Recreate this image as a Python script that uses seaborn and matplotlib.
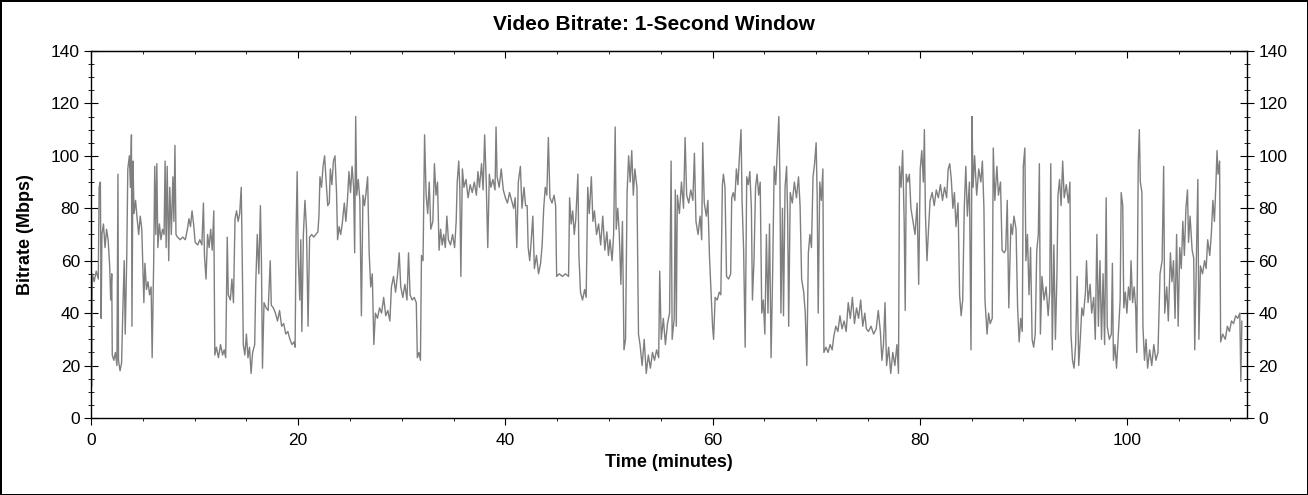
import matplotlib
matplotlib.use("Agg")
import matplotlib.pyplot as plt
import seaborn as sns
from matplotlib.ticker import MultipleLocator

# (minute, Mbps) samples
minutes = [
    0.00, 0.05, 0.12, 0.3, 0.5, 0.7, 0.78, 0.9, 0.98, 1.05, 1.2, 1.35, 1.5, 1.65, 1.8, 1.9,
    2.0, 2.05, 2.2, 2.35, 2.5, 2.6, 2.65, 2.8, 2.95, 3.05, 3.2, 3.3, 3.45, 3.55, 3.7, 3.8,
    3.9, 3.95, 4.05, 4.15, 4.3, 4.45, 4.6, 4.75, 4.9, 5.0, 5.1, 5.2, 5.35, 5.5, 5.65, 5.8,
    5.9, 6.05, 6.15, 6.25, 6.35, 6.45, 6.6, 6.75, 6.9, 7.05, 7.15, 7.25, 7.35, 7.5, 7.6, 7.75,
    7.9, 8.0, 8.1, 8.2, 8.35, 8.6, 8.85, 9.1, 9.3, 9.45, 9.6, 9.75, 9.9, 10.05, 10.3, 10.5,
    10.7, 10.85, 10.95, 11.1, 11.25, 11.4, 11.55, 11.7, 11.85, 11.95, 12.1, 12.3, 12.5, 12.7,
    12.85, 13.0, 13.15, 13.25, 13.45, 13.6, 13.75, 13.9, 14.05, 14.2, 14.35, 14.5, 14.6, 14.7,
    14.85, 15.0, 15.15, 15.3, 15.45, 15.6, 15.8, 15.9, 16.05, 16.2, 16.35, 16.45, 16.55, 16.7,
    16.9, 17.1, 17.3, 17.4, 17.6, 17.8, 18.0, 18.2, 18.4, 18.6, 18.8, 19.0, 19.2, 19.4, 19.6,
    19.7, 19.8, 19.9, 20.0, 20.15, 20.25, 20.35, 20.5, 20.65, 20.8, 20.95, 21.1, 21.3, 21.5,
    21.7, 21.9, 22.0, 22.1, 22.25, 22.4, 22.55, 22.7, 22.85, 23.0, 23.1, 23.25, 23.4, 23.55,
    23.7, 23.8, 23.95, 24.1, 24.25, 24.45, 24.6, 24.75, 24.9, 25.05, 25.2, 25.35, 25.45, 25.55,
    25.65, 25.8, 25.95, 26.1, 26.25, 26.4, 26.55, 26.7, 26.85, 27.0, 27.15, 27.3, 27.45, 27.65,
    27.85, 28.05, 28.25, 28.45, 28.65, 28.85, 29.0, 29.2, 29.4, 29.6, 29.75, 29.9, 30.1, 30.3,
    30.5, 30.65, 30.8, 31.0, 31.2, 31.4, 31.5, 31.65, 31.8, 31.9, 32.05, 32.2, 32.35, 32.5,
    32.65, 32.8, 33.0, 33.15, 33.3, 33.45, 33.6, 33.75, 33.9, 34.05, 34.2, 34.35, 34.5, 34.7,
    34.9, 35.1, 35.25, 35.35, 35.5, 35.6, 35.7, 35.85, 36.0, 36.2, 36.4, 36.6, 36.8, 37.0,
    37.2, 37.35, 37.5, 37.7, 37.85, 38.0, 38.15, 38.3, 38.45, 38.6, 38.8, 39.0, 39.1, 39.2,
    39.4, 39.6, 39.8, 40.0, 40.2, 40.4, 40.6, 40.8, 40.95, 41.1, 41.25, 41.45, 41.6, 41.8,
    41.95, 42.1, 42.2, 42.35, 42.5, 42.65, 42.8, 43.0, 43.2, 43.4, 43.55, 43.7, 43.85, 44.0,
    44.15, 44.3, 44.5, 44.7, 44.85, 44.95, 45.2, 45.5, 45.8, 46.1, 46.2, 46.35, 46.5, 46.65,
    46.8, 47.0, 47.1, 47.25, 47.45, 47.65, 47.8, 47.95, 48.1, 48.3, 48.45, 48.6, 48.8, 49.0,
    49.2, 49.4, 49.6, 49.8, 49.95, 50.1, 50.3, 50.45, 50.6, 50.7, 50.85, 51.0, 51.15, 51.3,
    51.45, 51.6, 51.75, 51.9, 52.05, 52.2, 52.35, 52.5, 52.7, 52.85, 53.0, 53.2, 53.4, 53.6,
    53.8, 54.0, 54.2, 54.4, 54.6, 54.8, 54.9, 55.05, 55.25, 55.45, 55.65, 55.85, 56.0, 56.1,
    56.3, 56.4, 56.5, 56.6, 56.8, 57.0, 57.2, 57.35, 57.5, 57.7, 57.9, 58.1, 58.25, 58.4,
    58.6, 58.8, 58.95, 59.05, 59.2, 59.4, 59.55, 59.7, 59.85, 60.0, 60.1, 60.25, 60.45, 60.65,
    60.8, 60.95, 61.05, 61.2, 61.35, 61.55, 61.75, 61.85, 62.0, 62.15, 62.3, 62.45, 62.6, 62.75,
    62.85, 63.0, 63.15, 63.3, 63.45, 63.6, 63.75, 63.85, 64.0, 64.15, 64.3, 64.45, 64.6, 64.75,
    64.9, 65.05, 65.2, 65.35, 65.5, 65.65, 65.8, 65.95, 66.1, 66.25, 66.4, 66.5, 66.6, 66.75,
    66.85, 67.0, 67.15, 67.25, 67.35, 67.5, 67.7, 67.9, 68.1, 68.3, 68.45, 68.6, 68.8, 68.95,
    69.1, 69.25, 69.4, 69.55, 69.7, 69.85, 70.0, 70.1, 70.2, 70.35, 70.5, 70.65, 70.75, 70.95,
    71.15, 71.35, 71.55, 71.7, 71.9, 72.1, 72.3, 72.5, 72.7, 72.9, 73.1, 73.3, 73.5, 73.7,
    73.9, 74.1, 74.3, 74.5, 74.7, 74.85, 75.05, 75.3, 75.55, 75.8, 76.0, 76.2, 76.35, 76.5,
    76.65, 76.8, 77.0, 77.2, 77.4, 77.6, 77.8, 77.95, 78.05, 78.2, 78.35, 78.5, 78.6, 78.7,
    78.85, 79.0, 79.15, 79.35, 79.55, 79.75, 79.9, 80.05, 80.2, 80.35, 80.45, 80.55, 80.7, 80.85,
    81.0, 81.2, 81.4, 81.6, 81.8, 82.0, 82.2, 82.4, 82.6, 82.75, 82.9, 83.05, 83.2, 83.35,
    83.5, 83.7, 83.85, 84.0, 84.15, 84.3, 84.45, 84.6, 84.8, 84.95, 85.05, 85.15, 85.3, 85.5,
    85.7, 85.9, 86.05, 86.2, 86.3, 86.5, 86.65, 86.8, 87.0, 87.1, 87.25, 87.45, 87.6, 87.8,
    87.95, 88.15, 88.3, 88.45, 88.6, 88.8, 88.95, 89.1, 89.3, 89.45, 89.6, 89.75, 89.9, 90.0,
    90.15, 90.25, 90.4, 90.55, 90.7, 90.85, 91.0, 91.15, 91.3, 91.45, 91.55, 91.65, 91.8, 92.0,
    92.2, 92.4, 92.55, 92.65, 92.8, 92.95, 93.1, 93.25, 93.35, 93.5, 93.65, 93.8, 93.95, 94.15,
    94.35, 94.5, 94.6, 94.75, 94.9, 95.05, 95.2, 95.35, 95.5, 95.65, 95.8, 96.0, 96.1, 96.25,
    96.45, 96.6, 96.8, 96.95, 97.1, 97.25, 97.4, 97.55, 97.7, 97.85, 98.0, 98.1, 98.3, 98.5,
    98.6, 98.7, 98.85, 99.0, 99.15, 99.35, 99.45, 99.6, 99.7, 99.85, 100.0, 100.15, 100.3, 100.4,
    100.55, 100.7, 100.85, 100.95, 101.1, 101.2, 101.3, 101.45, 101.55, 101.7, 101.85, 102.0,
    102.2, 102.4, 102.6, 102.8, 103.0, 103.2, 103.4, 103.55, 103.65, 103.85, 104.0, 104.2,
    104.35, 104.5, 104.65, 104.8, 104.95, 105.1, 105.25, 105.4, 105.55, 105.7, 105.85, 105.95,
    106.1, 106.3, 106.45, 106.55, 106.7, 106.85, 106.95, 107.1, 107.3, 107.5, 107.65, 107.8,
    108.0, 108.15, 108.3, 108.45, 108.6, 108.7, 108.8, 108.95, 109.05, 109.25, 109.5, 109.7,
    109.9, 110.1, 110.3, 110.5, 110.7, 110.9, 111.0, 111.1,
]

mbps = [
    48, 12, 55, 52, 56, 53, 88, 90, 38, 70, 74, 65, 72, 68, 58, 45,
    55, 24, 22, 25, 20, 93, 22, 18, 21, 38, 60, 32, 62, 95, 100, 88,
    108, 35, 98, 78, 83, 76, 70, 77, 72, 58, 44, 59, 49, 52, 47, 50,
    23, 60, 96, 70, 97, 65, 74, 68, 72, 70, 98, 65, 96, 60, 88, 70,
    92, 75, 104, 70, 69, 68, 69, 68, 72, 76, 73, 79, 74, 67, 66, 68,
    66, 82, 62, 53, 70, 65, 72, 64, 79, 24, 27, 23, 28, 24,
    26, 23, 69, 47, 45, 53, 44, 76, 79, 75, 78, 88, 60, 28,
    24, 32, 23, 27, 17, 25, 28, 51, 70, 55, 81, 60, 19, 44,
    42, 41, 60, 43, 42, 40, 37, 41, 35, 36, 32, 33, 30, 28, 29,
    27, 72, 94, 62, 45, 68, 33, 70, 83, 72, 35, 69, 70, 69,
    70, 71, 77, 92, 88, 96, 100, 90, 81, 82, 95, 89, 98, 100,
    86, 68, 73, 70, 74, 82, 75, 83, 94, 86, 96, 88, 63, 115,
    85, 91, 83, 39, 85, 81, 86, 92, 63, 50, 55, 28, 40, 38,
    42, 40, 46, 39, 41, 37, 50, 54, 48, 55, 63, 50, 46, 51,
    45, 63, 47, 45, 46, 44, 23, 25, 22, 62, 60, 108, 85, 78,
    90, 72, 75, 97, 85, 90, 64, 72, 66, 70, 65, 77, 68, 66,
    70, 65, 75, 90, 98, 88, 54, 95, 88, 91, 84, 89, 86, 90,
    85, 94, 88, 97, 87, 108, 90, 65, 93, 88, 91, 87, 111, 92,
    88, 95, 87, 84, 82, 86, 83, 80, 84, 65, 90, 96, 80, 88,
    81, 81, 65, 60, 68, 77, 57, 62, 55, 59, 66, 80, 88, 85,
    107, 84, 82, 85, 81, 54, 55, 54, 55, 54, 84, 74, 79, 70,
    76, 93, 62, 48, 45, 49, 46, 88, 78, 92, 75, 79, 70, 74,
    66, 77, 64, 71, 62, 68, 60, 70, 111, 72, 80, 70, 51, 75,
    26, 30, 86, 100, 90, 102, 85, 95, 88, 32, 28, 20, 30, 17,
    24, 19, 25, 22, 26, 23, 56, 30, 38, 28, 36, 40, 98, 30,
    38, 87, 35, 85, 78, 90, 80, 107, 85, 82, 87, 83, 101, 75,
    70, 77, 68, 105, 82, 77, 83, 62, 48, 35, 30, 46, 45, 48,
    47, 89, 93, 88, 54, 53, 55, 84, 86, 83, 95, 89, 100, 110,
    83, 64, 27, 92, 89, 94, 80, 45, 60, 88, 93, 85, 90, 40,
    45, 32, 70, 40, 74, 23, 55, 96, 89, 102, 115, 92, 40, 80,
    39, 88, 96, 77, 35, 86, 82, 90, 84, 92, 81, 53, 48, 40,
    20, 63, 70, 65, 92, 97, 105, 85, 40, 90, 83, 95, 25, 27,
    25, 28, 26, 31, 35, 33, 39, 34, 37, 33, 44, 38, 46, 36,
    42, 38, 45, 35, 40, 34, 33, 35, 32, 34, 41, 33, 22, 28,
    44, 20, 27, 17, 25, 20, 28, 17, 96, 88, 102, 75, 41, 93,
    90, 93, 80, 75, 70, 82, 51, 95, 102, 90, 110, 78, 60, 72,
    83, 86, 81, 87, 84, 89, 83, 88, 84, 95, 97, 91, 80, 86,
    73, 82, 47, 39, 45, 80, 96, 77, 90, 26, 115, 88, 100, 85,
    95, 90, 98, 80, 45, 32, 40, 36, 38, 103, 83, 96, 85, 90,
    64, 63, 64, 83, 42, 74, 70, 77, 72, 42, 29, 38, 33, 96,
    103, 60, 70, 47, 65, 30, 27, 32, 64, 70, 97, 32, 54, 45,
    50, 39, 48, 97, 26, 66, 30, 55, 85, 91, 81, 98, 84, 89,
    82, 90, 32, 22, 19, 28, 54, 20, 30, 42, 39, 48, 60, 44,
    51, 40, 46, 30, 70, 35, 60, 30, 55, 28, 84, 35, 30, 32,
    59, 22, 28, 19, 30, 45, 86, 81, 42, 48, 40, 50, 45, 60,
    44, 50, 42, 25, 98, 110, 90, 86, 35, 22, 30, 19,
    26, 20, 28, 22, 25, 55, 60, 96, 40, 50, 37, 63,
    52, 60, 38, 70, 35, 65, 57, 75, 62, 80, 87, 67,
    77, 64, 61, 26, 58, 91, 30, 58, 55, 60, 57, 68,
    62, 70, 83, 75, 90, 102, 93, 98, 29, 32, 30, 35,
    33, 37, 36, 39, 38, 40, 14, 37,
]

x_ticks = [0, 20, 40, 60, 80, 100]
y_ticks = [0, 20, 40, 60, 80, 100, 120, 140]

sns.set_style("white")
plt.rcParams["font.family"] = ["Liberation Sans", "DejaVu Sans"]
plt.rcParams["text.color"] = "black"
plt.rcParams["axes.labelcolor"] = "black"
plt.rcParams["xtick.color"] = "black"
plt.rcParams["ytick.color"] = "black"

fig = plt.figure(figsize=(13.08, 4.95), dpi=100)
fig.patch.set_edgecolor("black")
fig.patch.set_linewidth(2)
ax = fig.add_axes([0.0696, 0.1556, 0.8838, 0.7414])

sns.lineplot(x=minutes, y=mbps, color="#7f7f7f", linewidth=1.0,
             estimator=None, ax=ax)

ax.set_xlim(0, 111.6)
ax.set_ylim(0, 140)
ax.set_xticks(x_ticks)
ax.set_yticks(y_ticks)
ax.xaxis.set_minor_locator(MultipleLocator(5))
ax.yaxis.set_minor_locator(MultipleLocator(5))

for side in ["left", "right", "top", "bottom"]:
    ax.spines[side].set_visible(True)
    ax.spines[side].set_color("black")
    ax.spines[side].set_linewidth(1.0)

ax.tick_params(axis="x", which="both", direction="out", bottom=True, top=False,
               labelsize=12.5, labelcolor="black", pad=6)
ax.tick_params(axis="x", which="major", length=5)
ax.tick_params(axis="x", which="minor", length=2.5)
ax.tick_params(axis="y", which="both", direction="inout", left=True, right=True,
               labelleft=True, labelright=True, labelsize=12.5, labelcolor="black", pad=3)
ax.tick_params(axis="y", which="major", length=10)
ax.tick_params(axis="y", which="minor", length=4.5)

top = ax.secondary_xaxis("top")
top.set_xticks(x_ticks)
top.xaxis.set_minor_locator(MultipleLocator(5))
top.tick_params(axis="x", which="both", direction="in", labeltop=False)
top.tick_params(axis="x", which="major", length=5)
top.tick_params(axis="x", which="minor", length=2.5)

ax.set_xlabel("Time (minutes)", fontsize=13, fontweight="bold", labelpad=4)
ax.set_ylabel("Bitrate (Mbps)", fontsize=13, fontweight="bold", labelpad=12)
fig.suptitle("Video Bitrate: 1-Second Window", fontsize=15, fontweight="bold",
             y=0.97, va="top")

fig.savefig("out.png", dpi=100, edgecolor=fig.get_edgecolor())
